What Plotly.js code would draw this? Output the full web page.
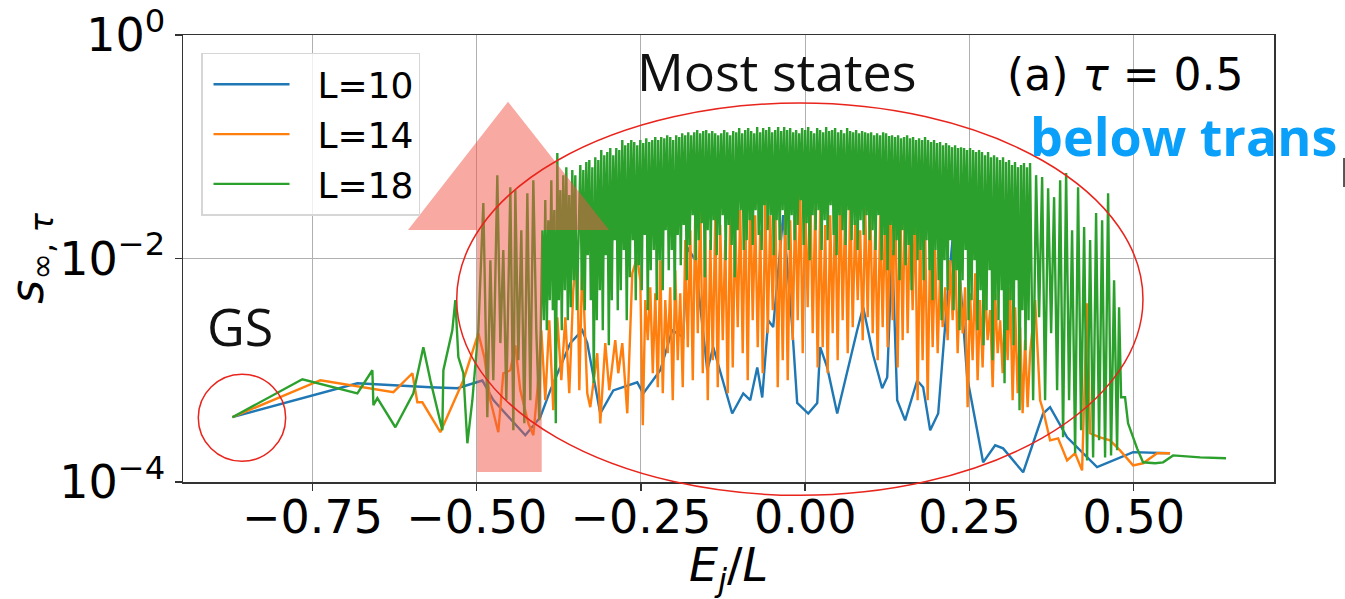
<!DOCTYPE html>
<html>
<head>
<meta charset="utf-8">
<script src="https://cdn.plot.ly/plotly-3.0.1.min.js"></script>
<style>
  html, body { margin: 0; padding: 0; background: #ffffff; }
  #chart { width: 1345px; height: 599px; }
</style>
</head>
<body>
<div id="chart"></div>
<script>
// ---------------- data ----------------
const seriesNames = ['L=10', 'L=14', 'L=18'];
const seriesColors = ['#1f77b4', '#ff7f0e', '#2ca02c'];

// L = 10
const energyL10 = [
  -0.8718,-0.6816,-0.5705,-0.5294,-0.4914,-0.4747,-0.4260,-0.4032,-0.3880,-0.3575,
  -0.3393,-0.3317,-0.3119,-0.2921,-0.2556,-0.2465,-0.2206,-0.2024,-0.1856,-0.1795,
  -0.1674,-0.1491,-0.1400,-0.1111,-0.0943,-0.0837,-0.0730,-0.0654,-0.0563,-0.0487,
  -0.0335,-0.0198,-0.0122,0.0046,0.0183,0.0228,0.0335,0.0487,0.0791,0.0882,
  0.1035,0.1171,0.1248,0.1324,0.1400,0.1521,0.1704,0.1795,0.1902,0.2024,
  0.2160,0.2282,0.2465,0.2708,0.2891,0.3012,0.3317,0.3621,0.3727,0.3986,
  0.4442,0.4990,0.5553];
const entropyL10 = [
  3.8e-4,7.65e-4,7.05e-4,6.9e-4,8.1e-4,5.4e-4,2.62e-4,3.8e-4,6.6e-4,1.75e-3,
  2.28e-3,1.75e-3,4.1e-4,6.6e-4,7.8e-4,6.2e-4,1.0e-3,2.28e-3,1.98e-3,1.26e-2,
  9.7e-3,1.0e-3,1.61e-3,4.1e-4,6.2e-4,5.4e-4,1.06e-3,5.7e-4,2.8e-3,2.43e-3,
  2.44e-2,2.43e-3,5.1e-4,4.1e-4,5.1e-4,1.61e-3,1.06e-3,4.1e-4,2.28e-3,3.66e-3,
  1.36e-3,6.9e-4,8.65e-4,1.19e-2,5.4e-4,3.56e-4,8.1e-4,7.05e-4,2.9e-4,4.1e-4,
  4.2e-3,2.7e-2,8.65e-4,1.5e-4,2.13e-4,2.0e-4,1.22e-4,4.1e-4,4.67e-4,2.51e-4,
  1.36e-4,1.85e-4,1.81e-4];

// L = 14
const energyL14 = [
  -0.8718,-0.7379,-0.6268,-0.5979,-0.5903,-0.5827,-0.5553,-0.5203,-0.4975,-0.4884,
  -0.4792,-0.4671,-0.4595,-0.4488,-0.4412,-0.4336,-0.4214,-0.4138,-0.4077,-0.4016,
  -0.3956,-0.3895,-0.3834,-0.3773,-0.3712,-0.3651,-0.3591,-0.3530,-0.3469,-0.3438,
  -0.3393,-0.3317,-0.3271,-0.3165,-0.3119,-0.3043,-0.2982,-0.2936,-0.2891,-0.2845,
  -0.2784,-0.2708,-0.2632,-0.2556,
  -0.2510,-0.2472,-0.2434,-0.2396,-0.2358,-0.2320,-0.2282,-0.2244,-0.2206,-0.2168,
  -0.2130,-0.2092,-0.2054,-0.2016,-0.1978,-0.1940,-0.1902,-0.1864,-0.1826,-0.1787,
  -0.1749,-0.1711,-0.1673,-0.1635,-0.1597,-0.1559,-0.1521,-0.1483,-0.1445,-0.1407,
  -0.1369,-0.1331,-0.1293,-0.1255,-0.1217,-0.1179,-0.1141,-0.1103,-0.1065,-0.1027,
  -0.0989,-0.0951,-0.0913,-0.0875,-0.0837,-0.0799,-0.0761,-0.0723,-0.0685,-0.0647,
  -0.0608,-0.0570,-0.0532,-0.0494,-0.0456,-0.0418,-0.0380,-0.0342,-0.0304,-0.0266,
  -0.0228,-0.0190,-0.0152,-0.0114,-0.0076,-0.0038,0.0000,0.0038,0.0076,0.0114,
  0.0152,0.0190,0.0228,0.0266,0.0304,0.0342,0.0380,0.0418,0.0456,0.0494,
  0.0532,0.0570,0.0608,0.0647,0.0685,0.0723,0.0761,0.0799,0.0837,0.0875,
  0.0913,0.0951,0.0989,0.1027,0.1065,0.1103,0.1141,0.1179,0.1217,0.1255,
  0.1293,0.1331,0.1369,0.1407,0.1445,0.1483,0.1521,0.1559,0.1597,0.1635,
  0.1673,0.1711,0.1749,0.1787,0.1826,0.1864,0.1902,0.1940,0.1978,0.2016,
  0.2054,0.2092,0.2130,0.2168,0.2206,0.2244,0.2282,0.2320,0.2358,0.2396,
  0.2434,0.2472,0.2510,0.2548,0.2586,0.2624,0.2662,0.2700,0.2738,0.2776,
  0.2815,0.2853,0.2891,0.2929,0.2967,0.3005,0.3043,0.3081,0.3119,0.3157,
  0.3195,0.3233,0.3271,0.3309,0.3347,0.3385,0.3423,
  0.3499,0.3575,0.3621,0.3727,0.3849,0.3986,0.4108,0.4214,0.4290,0.4336,
  0.4488,0.4640,0.4792,0.4990,0.5142,0.5355,0.5553];
const entropyL14 = [
  3.8e-4,8.14e-4,6.36e-4,9.4e-4,5.17e-4,5.17e-4,2.79e-4,8.14e-4,2.14e-3,1.31e-3,
  5.39e-4,2.79e-4,9.4e-4,1.0e-3,1.67e-3,6.62e-4,3.35e-4,2.62e-4,6.62e-4,2.28e-3,
  5.39e-4,2.8e-3,4.39e-4,2.98e-3,8.14e-4,2.98e-3,6.22e-4,5.2e-3,1.19e-2,6.62e-4,
  9.66e-3,6.22e-4,4.67e-4,1.42e-3,3.35e-4,1.75e-3,6.62e-4,1.06e-3,1.86e-3,9.4e-4,
  1.75e-3,4.12e-4,7.39e-3,1.03e-2,
  0.00639,0.000322,0.00424,0.00186,0.00553,0.00094,0.00489,0.000704,0.00966,0.000622,
  0.00424,0.00142,0.00553,0.000539,0.00786,0.00123,0.00489,0.000704,0.0146,0.00161,
  0.0179,0.000814,0.0271,0.00214,0.0333,0.00094,0.0179,0.000539,0.0146,0.00123,
  0.0244,0.000704,0.0199,0.00186,0.0146,0.000622,0.0288,0.00106,0.022,0.00243,
  0.0271,0.00142,0.0333,0.000814,0.0435,0.0028,0.0244,0.00161,0.0179,0.00094,
  0.0333,0.00214,0.0244,0.00345,0.0369,0.000704,0.0199,0.00123,0.0271,0.000814,
  0.022,0.00186,0.0333,0.0028,0.0435,0.00142,0.0333,0.00366,0.0472,0.00214,
  0.0288,0.00106,0.0271,0.00161,0.0199,0.00094,0.0244,0.00214,0.0333,0.00123,
  0.0435,0.0028,0.0271,0.00142,0.0369,0.00243,0.022,0.00424,0.0179,0.00186,
  0.0288,0.00298,0.0333,0.00214,0.0179,0.00123,0.0244,0.00243,0.0271,0.00161,
  0.0333,0.0028,0.0472,0.00106,0.0369,0.00186,0.0472,0.00214,0.0244,0.00345,
  0.0288,0.000539,0.0199,0.00123,0.0179,0.000539,0.0146,0.00161,0.0119,0.00142,
  0.00786,0.00243,0.00553,0.00186,0.00966,0.0028,0.0119,0.00142,0.00639,0.00214,
  0.00553,0.000467,0.00489,0.00123,0.00739,0.000814,0.00424,0.00106,0.00553,0.00186,
  0.00345,0.000704,0.00489,0.00142,0.0028,0.00094,0.00424,0.00123,0.00553,0.000539,
  0.00366,0.000622,0.00243,0.000412,0.00186,0.000467,0.00142,
  4.24e-3,5.39e-4,4.39e-4,2.36e-4,2.46e-4,1.56e-4,1.81e-4,1.27e-4,3.98e-3,2.73e-4,
  2.51e-4,2.36e-4,1.92e-4,1.41e-4,1.47e-4,1.81e-4,1.81e-4];

// L = 18
const energyL18 = [
  -0.8718,-0.7653,-0.6816,-0.6588,-0.6572,-0.6512,-0.6238,-0.5964,-0.5812,-0.5705,
  -0.5523,-0.5507,-0.5371,-0.5325,-0.5279,-0.5203,-0.5142,-0.5066,-0.4975,
  -0.4899,-0.4838,-0.4792,-0.4747,-0.4686,-0.4640,-0.4595,-0.4549,-0.4488,-0.4442,
  -0.4412,-0.4366,-0.4321,-0.4275,-0.4229,-0.4184,-0.4138,-0.4093,-0.4047,
  -0.4001,-0.3978,-0.3956,-0.3933,-0.3910,-0.3887,-0.3864,-0.3841,-0.3819,-0.3796,
  -0.3773,-0.3750,-0.3727,-0.3705,-0.3682,-0.3659,-0.3636,-0.3613,-0.3591,-0.3568,
  -0.3545,-0.3522,-0.3499,-0.3476,
  -0.3423,-0.3400,-0.3377,-0.3355,-0.3332,-0.3309,-0.3286,-0.3263,-0.3240,-0.3218,
  -0.3195,-0.3172,-0.3149,-0.3126,-0.3104,-0.3081,-0.3058,-0.3035,-0.3012,-0.2989,
  -0.2967,-0.2944,-0.2921,-0.2898,-0.2875,-0.2853,-0.2830,-0.2807,-0.2784,-0.2761,
  -0.2739,-0.2716,-0.2693,-0.2670,-0.2647,-0.2624,-0.2602,-0.2579,-0.2556,-0.2533,
  -0.2510,-0.2488,-0.2465,-0.2442,-0.2419,-0.2396,-0.2374,-0.2351,-0.2328,-0.2305,
  -0.2282,-0.2259,-0.2237,-0.2214,-0.2191,-0.2168,-0.2145,-0.2123,-0.2100,-0.2077,
  -0.2054,-0.2031,-0.2009,-0.1986,-0.1963,-0.1940,-0.1917,-0.1894,-0.1872,-0.1849,
  -0.1826,-0.1803,-0.1780,-0.1758,-0.1735,-0.1712,-0.1689,-0.1666,-0.1644,-0.1621,
  -0.1598,-0.1575,-0.1552,-0.1529,-0.1507,-0.1484,-0.1461,-0.1438,-0.1415,-0.1393,
  -0.1370,-0.1347,-0.1324,-0.1301,-0.1278,-0.1256,-0.1233,-0.1210,-0.1187,-0.1164,
  -0.1142,-0.1119,-0.1096,-0.1073,-0.1050,-0.1028,-0.1005,-0.0982,-0.0959,-0.0936,
  -0.0913,-0.0891,-0.0868,-0.0845,-0.0822,-0.0799,-0.0777,-0.0754,-0.0731,-0.0708,
  -0.0685,-0.0663,-0.0640,-0.0617,-0.0594,-0.0571,-0.0548,-0.0526,-0.0503,-0.0480,
  -0.0457,-0.0434,-0.0412,-0.0389,-0.0366,-0.0343,-0.0320,-0.0298,-0.0275,-0.0252,
  -0.0229,-0.0206,-0.0183,-0.0161,-0.0138,-0.0115,-0.0092,-0.0069,-0.0047,-0.0024,
  -0.0001,0.0022,0.0045,0.0068,0.0090,0.0113,0.0136,0.0159,0.0182,0.0204,
  0.0227,0.0250,0.0273,0.0296,0.0319,0.0341,0.0364,0.0387,0.0410,0.0433,
  0.0455,0.0478,0.0501,0.0524,0.0547,0.0569,0.0592,0.0615,0.0638,0.0661,
  0.0684,0.0706,0.0729,0.0752,0.0775,0.0798,0.0820,0.0843,0.0866,0.0889,
  0.0912,0.0935,0.0957,0.0980,0.1003,0.1026,0.1049,0.1071,0.1094,0.1117,
  0.1140,0.1163,0.1186,0.1208,0.1231,0.1254,0.1277,0.1300,0.1322,0.1345,
  0.1368,0.1391,0.1414,0.1436,0.1459,0.1482,0.1505,0.1528,0.1551,0.1573,
  0.1596,0.1619,0.1642,0.1665,0.1687,0.1710,0.1733,0.1756,0.1779,0.1802,
  0.1824,0.1847,0.1870,0.1893,0.1916,0.1938,0.1961,0.1984,0.2007,0.2030,
  0.2053,0.2075,0.2098,0.2121,0.2144,0.2167,0.2189,0.2212,0.2235,0.2258,
  0.2281,0.2304,0.2326,0.2349,0.2372,0.2395,0.2418,0.2440,0.2463,0.2486,
  0.2509,0.2532,0.2555,0.2577,0.2600,0.2623,0.2646,0.2669,0.2691,0.2714,
  0.2737,0.2760,0.2783,0.2806,0.2828,0.2851,0.2874,0.2897,0.2920,0.2942,
  0.2965,0.2988,0.3011,0.3034,0.3056,0.3079,0.3102,0.3125,0.3148,0.3171,
  0.3193,0.3216,0.3239,0.3262,0.3285,0.3307,0.3330,0.3353,0.3376,0.3399,
  0.3422,
  0.3469,0.3514,0.3560,0.3606,0.3651,0.3697,0.3743,0.3788,0.3834,0.3880,
  0.3925,0.3971,0.4016,0.4062,0.4108,0.4153,0.4199,0.4245,0.4290,0.4336,
  0.4382,0.4427,0.4473,0.4519,0.4564,0.4610,0.4655,0.4701,0.4747,0.4777,0.4808,
  0.4868,0.4914,0.5051,0.5142,0.5325,0.5447,0.5599,0.6010,0.6405];
const entropyL18 = [
  3.8e-4,8.31e-4,6.22e-4,1.0e-3,4.86e-4,5.62e-4,3.09e-4,6.22e-4,1.61e-3,8.14e-4,
  2.9e-4,1.0e-3,2.28e-3,4.24e-3,1.31e-3,9.4e-4,2.22e-4,5.39e-4,2.28e-3,
  3.13e-2,3.8e-4,9.66e-3,8.14e-4,5.57e-2,1.75e-3,1.19e-2,5.39e-4,4.35e-2,2.9e-4,
  4.09e-2,1.23e-3,1.79e-2,3.35e-4,3.84e-2,5.39e-4,5.02e-2,2.28e-3,3.57e-4,
  0.0179,0.0028,0.0333,0.00228,0.022,0.00424,0.0502,0.00345,0.0271,0.000335,
  0.0877,0.00424,0.0409,0.00228,0.0557,0.0052,0.0657,0.0028,0.0369,0.00366,
  0.0618,0.00639,0.0557,0.00345,
  0.0685,0.0052,0.0618,0.00345,0.0729,0.0107,0.0759,0.00424,0.0657,0.000765,
  0.0807,0.0028,0.0759,0.0052,0.0933,0.00228,0.0841,0.0107,0.0895,0.00167,
  0.0972,0.00424,0.0841,0.0146,0.0972,0.00345,0.0933,0.0052,0.115,0.0119,
  0.103,0.0028,0.108,0.0068,0.115,0.0146,0.110,0.00424,0.103,0.00871,
  0.115,0.0052,0.108,0.0162,0.119,0.00345,0.110,0.00786,0.115,0.0119,
  0.122,0.00424,0.115,0.00966,0.122,0.0052,0.119,0.0179,0.127,0.00786,
  0.122,0.0119,0.115,0.00424,0.127,0.0162,0.122,0.00871,0.132,0.0199,
  0.127,0.00639,0.135,0.0132,0.127,0.0244,0.135,0.00966,0.141,0.0146,
  0.132,0.0207,0.138,0.0068,0.141,0.0179,0.132,0.0119,0.138,0.022,
  0.132,0.0107,0.127,0.0162,0.132,0.0244,0.141,0.00966,0.135,0.0199,
  0.127,0.0132,0.138,0.0068,0.135,0.0179,0.147,0.0271,0.132,0.0119,
  0.141,0.0146,0.147,0.022,0.138,0.0132,0.132,0.0271,0.150,0.0162,
  0.135,0.0119,0.147,0.030,0.141,0.0179,0.150,0.0244,0.135,0.0107,
  0.141,0.022,0.150,0.0146,0.138,0.0271,0.150,0.0162,0.141,0.0119,
  0.147,0.0244,0.135,0.0146,0.141,0.0199,0.132,0.0333,0.147,0.0132,
  0.141,0.0207,0.150,0.00966,0.138,0.0244,0.132,0.0179,0.147,0.0271,
  0.141,0.0119,0.135,0.022,0.150,0.0146,0.138,0.030,0.141,0.0162,
  0.147,0.0107,0.135,0.0244,0.141,0.0179,0.132,0.0132,0.147,0.0271,
  0.138,0.0146,0.135,0.0199,0.141,0.0119,0.132,0.022,0.138,0.0162,
  0.135,0.0244,0.132,0.0146,0.135,0.0179,0.127,0.0119,0.132,0.0244,
  0.127,0.00966,0.135,0.0162,0.132,0.00786,0.1245,0.0199,0.127,0.0107,
  0.122,0.0146,0.127,0.00639,0.119,0.0179,0.122,0.00871,0.127,0.0132,
  0.119,0.0052,0.122,0.0162,0.115,0.00966,0.119,0.0119,0.115,0.00639,
  0.122,0.0146,0.115,0.00786,0.110,0.00424,0.115,0.0119,0.108,0.00639,
  0.110,0.0028,0.103,0.00966,0.108,0.0052,0.103,0.0146,0.0992,0.00345,
  0.103,0.00786,0.0972,0.00228,0.0992,0.00639,0.0972,0.0119,0.0933,0.0028,
  0.0972,0.00424,0.0933,0.00966,0.0895,0.00228,0.0933,0.0052,0.0895,0.00167,
  0.0841,0.00345,0.0895,0.00786,0.0807,0.00123,0.0841,0.00424,0.0807,0.0028,
  0.0759,0.0052,0.0807,0.000765,0.0729,0.00228,0.0759,0.00424,0.0685,0.00167,
  0.0729,0.00639,0.0657,0.000439,0.0685,0.00345,0.0714,0.00151,0.0657,0.0028,
  0.0714,
  5.39e-4,5.57e-2,2.98e-3,5.35e-2,5.39e-4,4.26e-2,2.14e-3,3.54e-2,6.62e-4,5.02e-2,
  2.51e-4,5.81e-2,5.39e-4,1.79e-2,1.81e-4,4.35e-2,2.9e-4,1.91e-2,1.56e-4,1.46e-2,
  1.66e-4,2.55e-2,2.36e-4,2.2e-2,1.66e-4,3.84e-2,1.73e-4,6.39e-3,1.92e-4,3.66e-3,5.73e-4,
  5.73e-4,3.35e-4,2.0e-4,1.5e-4,1.47e-4,1.5e-4,1.73e-4,1.66e-4,1.63e-4];

const xTickVals = [-0.75, -0.5, -0.25, 0, 0.25, 0.5];
const xTickText = ['\u22120.75', '\u22120.50', '\u22120.25', '0.00', '0.25', '0.50'];
const yTickVals = [1e-4, 1e-2, 1];
const yTickText = ['10<sup>\u22124</sup>', '10<sup>\u22122</sup>', '10<sup>0</sup>'];

// ---------------- figure ----------------
const energies = [energyL10, energyL14, energyL18];
const entropies = [entropyL10, entropyL14, entropyL18];
const traces = seriesNames.map((name, i) => ({
  type: 'scatter',
  mode: 'lines',
  name: '\u00a0\u00a0' + name,
  x: energies[i],
  y: entropies[i],
  line: { color: seriesColors[i], width: 2.4 }
}));

const axisFont = { family: 'DejaVu Sans, sans-serif', size: 46, color: '#000000' };
const red = '#e8241c';

const layout = {
  width: 1345,
  height: 599,
  margin: { l: 183, r: 71, t: 35, b: 117, pad: 0 },
  paper_bgcolor: '#ffffff',
  plot_bgcolor: '#ffffff',
  showlegend: true,
  legend: {
    x: 0.0165, y: 0.96, xanchor: 'left', yanchor: 'top',
    bgcolor: 'rgba(255,255,255,0.8)',
    bordercolor: '#d6d6d6', borderwidth: 1.5,
    font: { family: 'DejaVu Sans, sans-serif', size: 36, color: '#000000' },
    itemwidth: 76,
    indentation: 6
  },
  xaxis: {
    range: [-0.947, 0.7135],
    tickmode: 'array', tickvals: xTickVals, ticktext: xTickText,
    ticks: 'outside', ticklen: 7, tickwidth: 1.5, tickcolor: '#333333',
    ticklabelstandoff: -13,
    showgrid: true, gridcolor: '#b0b0b0', gridwidth: 1,
    showline: true, linecolor: '#333333', linewidth: 1.5, mirror: true,
    zeroline: false,
    tickfont: axisFont,
    title: { text: '<i>E</i><sub><i>j</i></sub>/<i>L</i>', font: axisFont, standoff: 16 }
  },
  yaxis: {
    type: 'log',
    range: [-4, 0],
    tickmode: 'array', tickvals: yTickVals, ticktext: yTickText,
    ticks: 'outside', ticklen: 7, tickwidth: 1.5, tickcolor: '#333333',
    showgrid: true, gridcolor: '#b0b0b0', gridwidth: 1,
    showline: true, linecolor: '#333333', linewidth: 1.5, mirror: true,
    zeroline: false,
    tickfont: axisFont,
    title: { text: '<i>s</i><sub>\u221e, <i>\u03c4</i></sub>', font: axisFont, standoff: 18 }
  },
  shapes: [
    {
      type: 'path', xref: 'paper', yref: 'paper', layer: 'above',
      path: 'M 0.2695 0.0224 L 0.3288 0.0224 L 0.3288 0.5635 L 0.3905 0.5635 L 0.2979 0.8507 L 0.2062 0.5635 L 0.2695 0.5635 Z',
      fillcolor: 'rgba(242,85,70,0.5)', line: { width: 0 }
    },
    {
      type: 'circle', xref: 'paper', yref: 'paper', layer: 'above',
      x0: 0.2509, x1: 0.8799, y0: -0.0298, y1: 0.8478,
      line: { color: red, width: 1.5 }
    },
    {
      type: 'circle', xref: 'paper', yref: 'paper', layer: 'above',
      x0: 0.0140, x1: 0.0941, y0: 0.0463, y1: 0.2411,
      line: { color: red, width: 1.5 }
    },
    {
      type: 'line', xref: 'paper', yref: 'paper',
      x0: 1.0642, x1: 1.0642, y0: 0.6597, y1: 0.7247,
      line: { color: '#555555', width: 2 }
    }
  ],
  annotations: [
    {
      xref: 'paper', yref: 'paper', x: 0.5445, y: 0.9217,
      xanchor: 'center', yanchor: 'middle', showarrow: false,
      text: 'Most states',
      font: { family: 'Open Sans, sans-serif', size: 52, color: '#111111' }
    },
    {
      xref: 'paper', yref: 'paper', x: 0.8643, y: 0.911,
      xanchor: 'center', yanchor: 'middle', showarrow: false, borderpad: 0,
      text: '(a) <i>\u03c4</i> = 0.5',
      font: { family: 'DejaVu Sans, sans-serif', size: 44, color: '#000000' }
    },
    {
      xref: 'paper', yref: 'paper', x: 0.7755, y: 0.776,
      xanchor: 'left', yanchor: 'middle', showarrow: false, borderpad: 0,
      text: '<b>below trans</b>',
      font: { family: 'Open Sans, sans-serif', size: 52, color: '#0aa0fa', weight: 800 }
    },
    {
      xref: 'paper', yref: 'paper', x: 0.0522, y: 0.3497,
      xanchor: 'center', yanchor: 'middle', showarrow: false,
      text: 'GS',
      font: { family: 'Open Sans, sans-serif', size: 52, color: '#111111' }
    }
  ]
};

Plotly.newPlot('chart', traces, layout, { displayModeBar: false, staticPlot: true });
</script>
</body>
</html>
